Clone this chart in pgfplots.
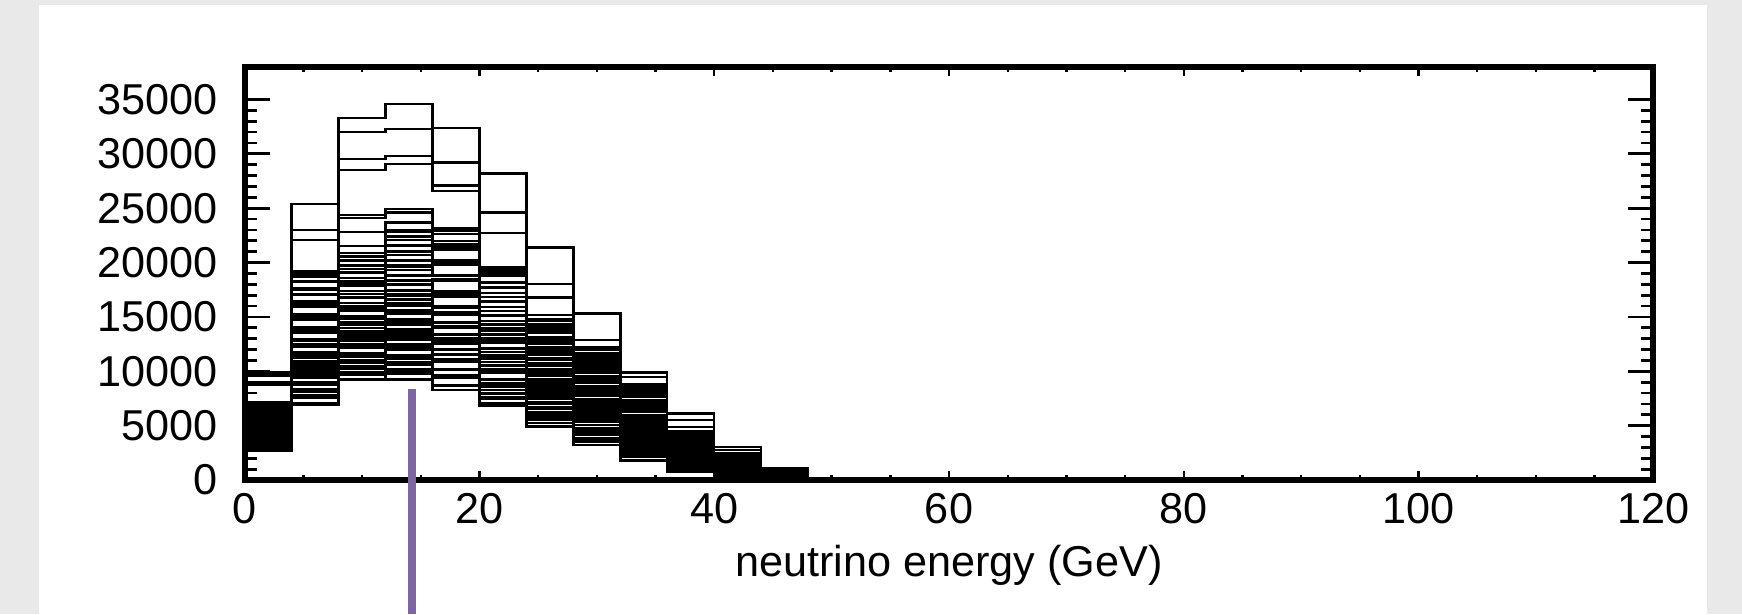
\documentclass[border=0pt]{standalone}
\usepackage{fontspec}
\setmainfont{Liberation Sans}
\usepackage{pgfplots}
\usepackage{pgfplotstable}
\pgfplotsset{compat=1.18}
\definecolor{slidegray}{RGB}{233,233,233}
\definecolor{markerpurple}{RGB}{128,102,160}

% one row per histogram (row x = lower bin edges in GeV)
\pgfplotstableread{
name c0 c1 c2 c3 c4 c5 c6 c7 c8 c9 c10 c11 c12 c13
x 0 4 8 12 16 20 24 28 32 36 40 44 48 120
h0 9900 25400 33300 34600 32400 28200 21400 15300 9900 6100 3060 1100 0 0
h1 9600 23000 32000 32300 29200 24600 18000 12900 9500 5500 2750 950 0 0
h2 9000 22100 29500 29800 27100 22700 16800 12200 8700 4900 2450 850 0 0
h3 8800 19200 28500 29050 26600 19600 15200 12000 8800 4500 2300 800 0 0
h4 7200 19000 24400 24900 22900 19500 14600 11500 8400 4300 2200 900 0 0
h5 7000 18700 24100 24600 22600 19200 14300 11200 8100 4100 2100 800 0 0
h6 6800 18300 22800 23700 22000 18800 13900 10800 7700 3900 2000 750 0 0
h7 6500 17600 21500 22800 21400 18200 13500 10300 7300 3700 1900 700 0 0
h8 2700 6900 9240 9200 8300 6800 4900 3200 1800 800 300 100 0 0
h9 2940 7070 9820 9270 8660 7500 4950 3520 1770 960 370 110 0 0
h10 2830 7830 9880 10150 8730 7570 5710 3560 2280 870 400 160 0 0
h11 3060 7770 10510 9810 9670 7500 5660 4150 2170 1100 500 140 0 0
h12 3130 8290 10220 10700 10170 7940 6110 3830 2550 1150 450 200 0 0
h13 3370 8230 10970 10630 10100 8770 5960 4420 2450 1310 560 190 0 0
h14 3260 8990 11030 11510 10170 8840 6720 4460 2960 1220 590 240 0 0
h15 3490 8930 11660 11170 11110 8770 6670 5050 2850 1450 690 220 0 0
h16 3560 9450 11370 12060 11610 9210 7120 4730 3230 1500 640 280 0 0
h17 3800 9390 12120 11990 11540 10040 6970 5320 3130 1660 750 270 0 0
h18 3690 10150 12180 12870 11610 10110 7730 5360 3640 1570 780 320 0 0
h19 3920 10090 12810 12530 12550 10040 7680 5950 3530 1800 880 300 0 0
h20 3990 10610 12520 13420 13050 10480 8130 5630 3910 1850 830 360 0 0
h21 4230 10550 13270 13350 12980 11310 7980 6220 3810 2010 940 350 0 0
h22 4120 11310 13330 14230 13050 11380 8740 6260 4320 1920 970 400 0 0
h23 4350 11250 13960 13890 13990 11310 8690 6850 4210 2150 1070 380 0 0
h24 4420 11770 13670 14780 14490 11750 9140 6530 4590 2200 1020 440 0 0
h25 4660 11710 14420 14710 14420 12580 8990 7120 4490 2360 1130 430 0 0
h26 4550 12470 14480 15590 14490 12650 9750 7160 5000 2270 1160 480 0 0
h27 4780 12410 15110 15250 15430 12580 9700 7750 4890 2500 1260 460 0 0
h28 4850 12930 14820 16140 15930 13020 10150 7430 5270 2550 1210 520 0 0
h29 5090 12870 15570 16070 15860 13850 10000 8020 5170 2710 1320 510 0 0
h30 4980 13630 15630 16950 15930 13920 10760 8060 5680 2620 1350 560 0 0
h31 5210 13570 16260 16610 16870 13850 10710 8650 5570 2850 1450 540 0 0
h32 5280 14090 15970 17500 17370 14290 11160 8330 5950 2900 1400 600 0 0
h33 5520 14030 16720 17430 17300 15120 11010 8920 5850 3060 1510 590 0 0
h34 5410 14790 16780 18310 17370 15190 11770 8960 6360 2970 1540 640 0 0
h35 5640 14730 17410 17970 18310 15120 11720 9550 6250 3200 1640 620 0 0
h36 5710 15250 17120 18860 18810 15560 12170 9230 6630 3250 1590 680 0 0
h37 5950 15190 17870 18790 18740 16390 12020 9820 6530 3410 1700 670 0 0
h38 5840 15950 17930 19670 18810 16460 12780 9860 7040 3320 1730 720 0 0
h39 6070 15890 18560 19330 19750 16390 12730 10450 6930 3550 1830 700 0 0
h40 6140 16410 18270 20220 20250 16830 13180 10130 7310 3600 1780 760 0 0
h41 6380 16350 19020 20150 20180 17660 13030 10720 7210 3760 1890 750 0 0
h42 6270 17110 19080 21030 20250 17730 13790 10760 7720 3670 1920 800 0 0
h43 6500 17050 19710 20690 21190 17660 13740 11350 7610 3900 2020 780 0 0
h44 6570 17570 19420 21580 21690 18100 14190 11030 7990 3950 1970 840 0 0
h45 6810 17510 20170 21510 21620 18930 14040 11620 7890 4110 2080 830 0 0
h46 6700 18270 20230 22390 21690 19000 14800 11660 8400 4020 2110 880 0 0
h47 6930 18210 20860 22050 22630 18930 14750 12250 8290 4250 2210 860 0 0
h48 7000 18730 20570 22940 23130 19370 15200 11930 8670 4300 2160 920 0 0
h49 2950 6990 9850 10120 8700 7030 5580 3720 1860 970 410 110 0 0
h50 2840 7750 9670 9910 9490 7980 5240 3850 2430 950 400 170 0 0
h51 3160 7570 10420 10800 9420 7660 6090 4170 2200 1140 500 150 0 0
h52 3050 8330 10240 10590 10210 8610 5740 4300 2770 1120 490 210 0 0
h53 3380 8150 11000 11480 10140 8300 6590 4620 2540 1320 600 190 0 0
h54 3270 8910 10820 11270 10930 9250 6250 4750 3110 1300 590 250 0 0
h55 3590 8730 11570 12160 10860 8930 7100 5070 2880 1490 690 230 0 0
h56 3590 9780 11680 12290 12010 10200 7000 5430 3620 1560 730 310 0 0
h57 3920 9600 12440 13180 11940 9890 7860 5740 3390 1760 840 290 0 0
h58 3800 10360 12250 12970 12730 10830 7510 5880 3960 1730 820 350 0 0
h59 4130 10180 13010 13860 12660 10520 8360 6190 3730 1930 930 330 0 0
h60 4020 10940 12830 13650 13450 11470 8010 6330 4300 1910 920 390 0 0
h61 4350 10760 13590 14540 13380 11160 8870 6640 4070 2110 1030 370 0 0
h62 4230 11520 13400 14330 14170 12100 8520 6780 4640 2080 1010 430 0 0
h63 4670 11630 14450 15560 14460 12110 9620 7320 4580 2370 1170 430 0 0
h64 4560 12390 14270 15350 15250 13060 9280 7450 5150 2350 1160 490 0 0
h65 4880 12210 15020 16240 15180 12740 10130 7770 4920 2540 1260 470 0 0
h66 4770 12970 14840 16030 15970 13690 9780 7900 5490 2520 1250 530 0 0
h67 5100 12790 15600 16920 15900 13380 10630 8220 5260 2720 1360 510 0 0
h68 5090 13840 15700 17050 17050 14640 10540 8580 6000 2780 1390 590 0 0
h69 5530 13950 16750 18280 17340 14650 11640 9120 5940 3070 1550 590 0 0
h70 5520 15000 16850 18410 18490 15910 11550 9480 6680 3130 1580 670 0 0
h71 5960 15110 17900 19640 18780 15920 12650 10020 6620 3420 1740 670 0 0
h72 5950 16160 18000 19770 19930 17180 12560 10380 7360 3480 1770 750 0 0
}\rawhistos
\pgfplotstabletranspose[colnames from=name]{\histos}{\rawhistos}

\begin{document}
\begin{tikzpicture}
\useasboundingbox (-61.175pt,-33.5pt) rectangle (374.325pt,120pt);
\fill[slidegray] (-61.175pt,-33.5pt) rectangle (374.325pt,120pt);
\fill[white] (-51.4pt,-33.5pt) rectangle (365.6pt,118.75pt);
\begin{axis}[
  at={(0,0)}, anchor=south west,
  scale only axis, width=352.15pt, height=103.3pt,
  xmin=0, xmax=120, ymin=0, ymax=38000,
  xtick=\empty,
  ytick={0,5000,...,35000}, minor y tick num=4,
  tick align=inside,
  major tick length=6.4pt, minor tick length=3pt,
  every tick/.style={black, line width=0.7pt},
  axis line style={line width=1.5pt},
  scaled y ticks=false,
  /pgf/number format/1000 sep={},
  /pgf/number format/assume math mode=true,
  tick label style={font=\fontsize{10.8}{13}\selectfont},
  yticklabel style={anchor=east, inner sep=0pt, xshift=-6.6pt},
  xlabel={neutrino energy (GeV)},
  xlabel style={at={(axis description cs:0.5,0)}, anchor=base, yshift=-24pt, font=\fontsize{10.8}{13}\selectfont},
]
\pgfplotsinvokeforeach{0,...,72}{
  \addplot[const plot, black, line width=0.6pt, forget plot] table[x=x, y=h#1] {\histos};
}
\coordinate (ptop) at (axis cs:14.23,8330);
\end{axis}
\begin{axis}[
  at={(0,0)}, anchor=south west,
  scale only axis, width=352.15pt, height=103.3pt,
  xmin=0, xmax=120, ymin=0, ymax=38000,
  xtick={0,20,...,120}, minor x tick num=3, ytick=\empty,
  tick align=inside,
  major tick length=2.2pt, minor tick length=1.2pt,
  every tick/.style={black, line width=0.6pt},
  axis line style={draw=none},
  /pgf/number format/assume math mode=true,
  tick label style={font=\fontsize{10.8}{13}\selectfont},
  xticklabel style={anchor=base, yshift=-10.8pt},
]
\end{axis}
\draw[markerpurple, line width=2.1pt] (ptop) -- (ptop |- 0,-33.5pt);
\end{tikzpicture}
\end{document}
